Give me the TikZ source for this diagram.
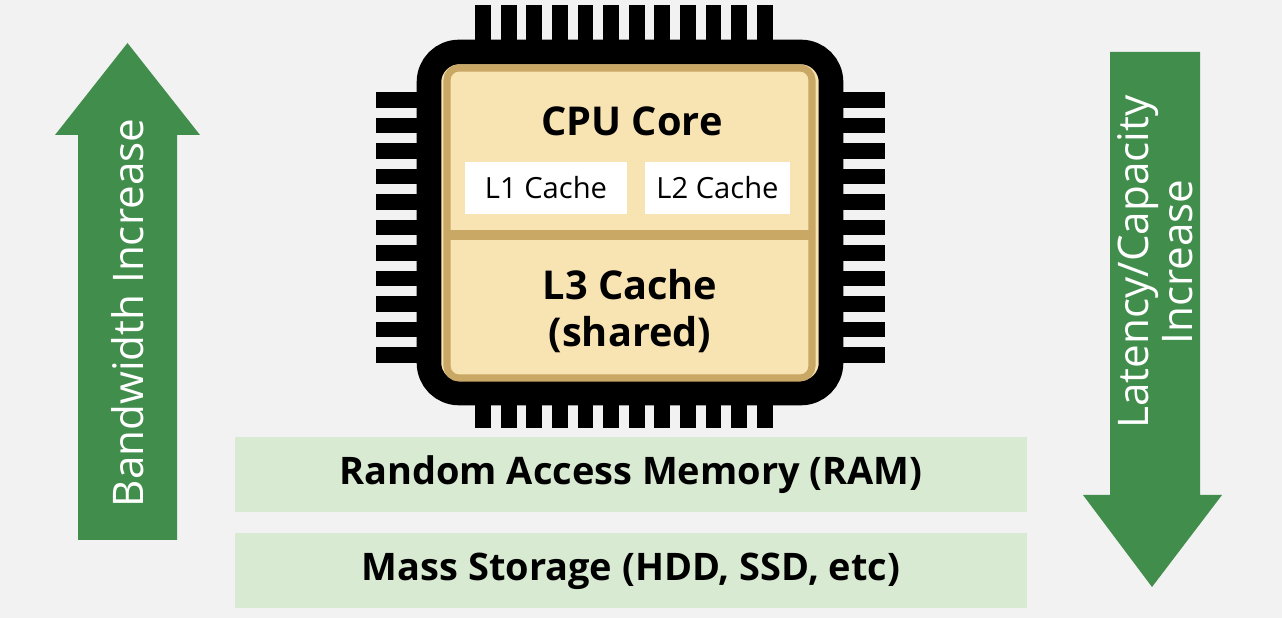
\documentclass[tikz,border=0pt]{standalone}
\usepackage{fontspec}
\setmainfont{Open Sans}
\usetikzlibrary{shapes.arrows}
\definecolor{bgcol}{HTML}{F2F2F2}
\definecolor{chipfill}{HTML}{F8E3B2}
\definecolor{chipline}{HTML}{C9A765}
\definecolor{barfill}{HTML}{D8EBD2}
\definecolor{arrowcol}{HTML}{418D4C}
\tikzstyle{pin} = [line width=4.5pt, black]
\tikzstyle{cache} = [fill=white, minimum height=0.52cm, inner sep=0pt, font=\fontsize{8.3}{10}\selectfont]
\tikzstyle{bar} = [fill=barfill, minimum height=0.75cm, minimum width=7.92cm, font=\fontsize{10.8}{12}\selectfont\bfseries]
\tikzstyle{bigarrow} = [fill=arrowcol]

\begin{document}
\begin{tikzpicture}[x=1cm, y=1cm]
    \fill [bgcol] (0,0) rectangle (12.82,6.18);
    \useasboundingbox (0,0) rectangle (12.82,6.18);

    % pins
    \foreach \i in {0,...,11} {
        \draw [pin] (4.83+\i*0.256,6.13) -- (4.83+\i*0.256,5.6);
        \draw [pin] (4.83+\i*0.256,1.9) -- (4.83+\i*0.256,2.4);
    }
    \foreach \i in {0,...,10} {
        \draw [pin] (3.76,5.18-\i*0.255) -- (4.3,5.18-\i*0.255);
        \draw [pin] (8.3,5.18-\i*0.255) -- (8.85,5.18-\i*0.255);
    }

    % chip body
    \draw [line width=7pt, fill=chipfill, rounded corners=0.3cm] (4.29,2.25) rectangle (8.31,5.66);
    \draw [line width=2pt, chipline, rounded corners=0.12cm] (4.47,2.40) rectangle (8.12,5.50);
    \draw [line width=3pt, chipline] (4.47,3.83) -- (8.12,3.83);

    \node [font=\fontsize{11.3}{13}\selectfont\bfseries] (core) at (6.32,4.97) {CPU Core};
    \node [cache, minimum width=1.62cm] (l1) at (5.46,4.30) {L1 Cache};
    \node [cache, minimum width=1.45cm] (l2) at (7.175,4.30) {L2 Cache};
    \node [font=\fontsize{11.3}{13.5}\selectfont\bfseries, align=center] (l3) at (6.30,3.07) {L3 Cache\\(shared)};

    % memory levels
    \node [bar] (ram) at (6.31,1.43) {Random Access Memory (RAM)};
    \node [bar] (mass) at (6.31,0.47) {Mass Storage (HDD, SSD, etc)};

    % arrows
    \fill [bigarrow] (0.78,0.78) -- (1.77,0.78) -- (1.77,4.83) -- (2.00,4.83)
        -- (1.275,5.75) -- (0.55,4.83) -- (0.78,4.83) -- cycle;
    \node [white, rotate=90, font=\fontsize{12}{13}\selectfont] (bw) at (1.275,3.05) {Bandwidth Increase};
    \fill [bigarrow] (11.10,5.66) -- (12.00,5.66) -- (12.00,1.23) -- (12.22,1.23)
        -- (11.52,0.31) -- (10.83,1.23) -- (11.10,1.23) -- cycle;
    \node [white, rotate=90, font=\fontsize{12}{11}\selectfont, align=center] (lat) at (11.55,3.56) {Latency/Capacity\\Increase};
\end{tikzpicture}
\end{document}
